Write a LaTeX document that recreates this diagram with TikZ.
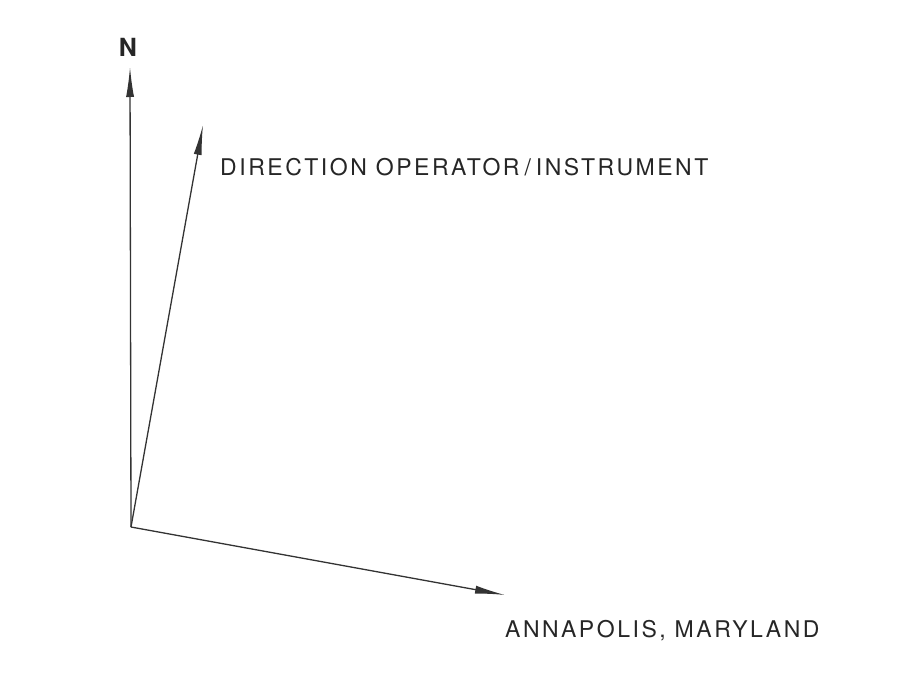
\documentclass[tikz,border=0pt]{standalone}
\usepackage{fontspec}
\setmainfont{TeX Gyre Heros}
\newfontfamily\letterfont[LetterSpace=11]{TeX Gyre Heros}
\usetikzlibrary{arrows.meta,positioning}
\tikzset{
  vec/.style={-{Latex[length=30pt,width=8pt]}, line width=1.3pt, black!80},
  lbl/.style={font=\letterfont\fontsize{23}{25}\selectfont, text=black!85, inner sep=0pt}
}
\begin{document}
\begin{tikzpicture}[x=1pt, y=-1pt]
  \useasboundingbox (0,0) rectangle (897,688);
  \coordinate (origin) at (131,527);
  \coordinate (north) at (130,67);
  \coordinate (dir) at (203,125);
  \coordinate (annap) at (505,595);

  \node[lbl, font=\bfseries\fontsize{25}{27}\selectfont, anchor=south] (nlabel) at (128,57) {N};
  \node[lbl, anchor=west] (dirlabel) at (220,167) {DIRECTION OPERATOR\hspace{5pt}/\hspace{5pt}INSTRUMENT};
  \node[lbl, anchor=west] (annlabel) at (505,631) {ANNAPOLIS, MARYLAND};

  \draw[vec] (origin) -- (north);
  \draw[vec] (origin) -- (dir);
  \draw[vec] (origin) -- (annap);
\end{tikzpicture}
\end{document}
